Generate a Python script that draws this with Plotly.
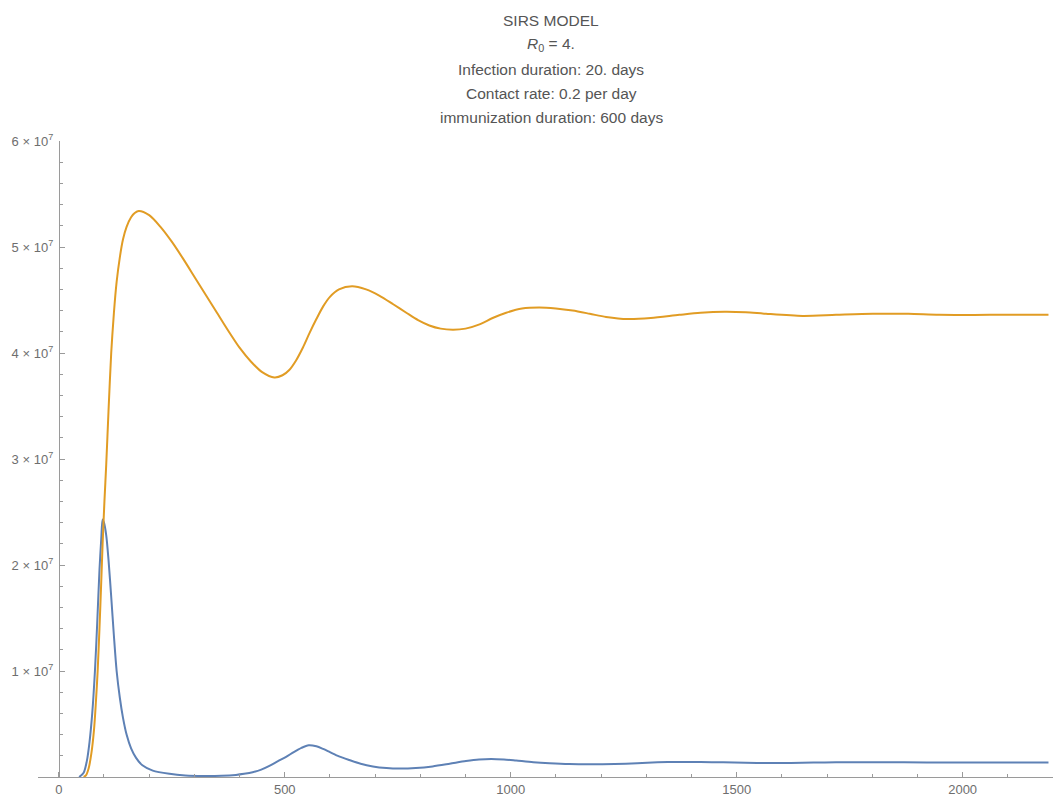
import plotly.graph_objects as go

# SIRS model output: infected (blue) and recovered/immune (orange), people vs. days
infected_days = [45, 55, 62, 68, 74, 80, 85, 90, 94, 97, 100, 105, 110, 116, 122, 128,
                 135, 142, 150, 160, 171, 185, 208, 245, 280, 320, 360, 392, 410, 429,
                 448, 466, 485, 503, 520, 537, 553, 570, 585, 600, 620, 643, 668, 695,
                 725, 754, 790, 827, 865, 901, 930, 957, 985, 1012, 1050, 1086, 1130,
                 1180, 1230, 1280, 1325, 1370, 1420, 1470, 1520, 1570, 1620, 1670, 1720,
                 1770, 1870, 1970, 2080, 2190]
infected_1e7 = [0, 0.04, 0.15, 0.33, 0.6, 1.0, 1.45, 1.95, 2.25, 2.43, 2.40, 2.28, 2.05,
                1.70, 1.33, 1.00, 0.75, 0.56, 0.40, 0.27, 0.18, 0.11, 0.06, 0.03, 0.015,
                0.01, 0.012, 0.02, 0.03, 0.045, 0.07, 0.105, 0.15, 0.19, 0.235, 0.275,
                0.30, 0.29, 0.265, 0.235, 0.195, 0.16, 0.125, 0.10, 0.085, 0.08, 0.085,
                0.10, 0.125, 0.15, 0.165, 0.17, 0.165, 0.155, 0.14, 0.13, 0.122, 0.12,
                0.123, 0.13, 0.138, 0.142, 0.142, 0.138, 0.134, 0.132, 0.133, 0.136,
                0.138, 0.139, 0.138, 0.136, 0.136, 0.136]

immune_days = [55, 60, 66, 72, 78, 82, 86, 90, 94, 97, 101, 105, 110, 116, 122, 128, 135,
               142, 150, 160, 168, 177, 200, 225, 250, 275, 300, 325, 350, 375, 400, 425,
               450, 477, 495, 510, 525, 540, 555, 570, 585, 600, 620, 649, 680, 710, 740,
               769, 795, 820, 845, 872, 900, 931, 960, 990, 1025, 1063, 1100, 1137, 1175,
               1211, 1259, 1310, 1373, 1420, 1473, 1520, 1565, 1646, 1720, 1801, 1880,
               1948, 2060, 2190]
immune_1e7 = [0, 0.015, 0.08, 0.22, 0.45, 0.7, 1.0, 1.4, 1.85, 2.2, 2.6, 2.95, 3.45, 4.0,
              4.38, 4.67, 4.9, 5.07, 5.19, 5.28, 5.32, 5.34, 5.30, 5.19, 5.05, 4.89, 4.72,
              4.55, 4.38, 4.21, 4.05, 3.92, 3.82, 3.77, 3.79, 3.84, 3.93, 4.05, 4.19, 4.32,
              4.44, 4.53, 4.60, 4.63, 4.60, 4.54, 4.46, 4.38, 4.31, 4.26, 4.23, 4.22, 4.23,
              4.27, 4.33, 4.38, 4.42, 4.43, 4.42, 4.40, 4.37, 4.34, 4.32, 4.33, 4.36, 4.38,
              4.39, 4.385, 4.37, 4.35, 4.36, 4.37, 4.37, 4.36, 4.36, 4.36]

title_lines = [
    "SIRS MODEL",
    "<i>R</i><sub>0</sub> = 4.",
    "Infection duration: 20. days",
    "Contact rate: 0.2 per day",
    "immunization duration: 600 days",
]

y_tick_vals = [1e7, 2e7, 3e7, 4e7, 5e7, 6e7]
y_tick_text = [f"{k} × 10<sup>7</sup>" for k in range(1, 7)]
x_tick_vals = [0, 500, 1000, 1500, 2000]

W, H = 1062, 798
ML, MR, MT, MB = 38, 9, 141, 21
X_MIN, X_MAX = -46, 2200

BLUE = "#5E81B5"
ORANGE = "#E19C24"
AXIS = "#9a9a9a"
FONT = "Arial, Liberation Sans, sans-serif"

fig = go.Figure()
fig.add_trace(go.Scatter(
    x=infected_days, y=[v * 1e7 for v in infected_1e7], mode="lines",
    line=dict(color=BLUE, width=2, shape="spline", smoothing=0.8),
    showlegend=False, hoverinfo="skip"))
fig.add_trace(go.Scatter(
    x=immune_days, y=[v * 1e7 for v in immune_1e7], mode="lines",
    line=dict(color=ORANGE, width=2, shape="spline", smoothing=0.8),
    showlegend=False, hoverinfo="skip"))

# Vertical axis sits at day 0, inside the padded horizontal range
y_axis_pos = (0 - X_MIN) / (X_MAX - X_MIN)

fig.update_layout(
    template="none",
    width=W, height=H,
    margin=dict(l=ML, r=MR, t=MT, b=MB, autoexpand=False),
    paper_bgcolor="white", plot_bgcolor="white",
    font=dict(family=FONT, color="#666666"),
    xaxis=dict(
        range=[X_MIN, X_MAX], domain=[0, 1],
        showgrid=False, zeroline=False, automargin=False,
        showline=True, linecolor=AXIS, linewidth=1,
        tickmode="array", tickvals=x_tick_vals,
        ticks="inside", ticklen=5, tickcolor=AXIS, tickwidth=1,
        tickfont=dict(size=13, color="#6e6e6e", family=FONT),
        minor=dict(tickmode="linear", tick0=0, dtick=100, ticks="inside",
                   ticklen=3, tickcolor=AXIS, showgrid=False),
    ),
    yaxis=dict(
        range=[0, 6e7], anchor="free", position=y_axis_pos,
        showgrid=False, zeroline=False, automargin=False,
        showline=True, linecolor=AXIS, linewidth=1,
        tickmode="array", tickvals=y_tick_vals, ticktext=y_tick_text,
        ticks="inside", ticklen=5, tickcolor=AXIS, tickwidth=1,
        ticklabelstandoff=3,
        tickfont=dict(size=13, color="#6e6e6e", family=FONT),
        minor=dict(tickmode="linear", tick0=0, dtick=2e6, ticks="inside",
                   ticklen=3, tickcolor=AXIS, showgrid=False),
    ),
)

# Multi-line heading, one annotation per line for even spacing
for i, line in enumerate(title_lines):
    fig.add_annotation(
        text=line, xref="paper", yref="paper",
        x=(551 - ML) / (W - ML - MR), xanchor="center",
        y=1 + (MT - (20 + 24.5 * i)) / (H - MT - MB), yanchor="middle",
        showarrow=False,
        font=dict(size=15.5, color="#555555", family=FONT),
    )

fig.write_html("out.html", config={"displayModeBar": False})
